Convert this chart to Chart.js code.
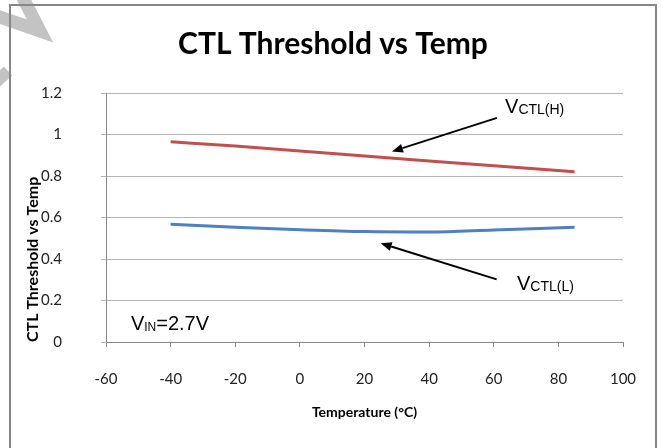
<!DOCTYPE html>
<html lang="en">
  <head>
    <meta charset="UTF-8" />
    <title>CTL Threshold vs Temp</title>
    <style>
      body {
        margin: 0;
        background-color: #ffffff;
      }
      #chartBox {
        width: 663px;
        height: 448px;
      }
    </style>
    <script src="https://cdn.jsdelivr.net/npm/chart.js"></script>
  </head>
  <body>
    <div id="chartBox"><canvas id="thresholdChart" width="663" height="448"></canvas></div>

    <script>
      // temperatures (°C) and the two threshold curves (V)
      const temps = [-40, -20, 0, 20, 40, 60, 85];
      const vctlHigh = [0.965, 0.944, 0.921, 0.896, 0.872, 0.849, 0.821];
      const vctlLow = [0.567, 0.553, 0.541, 0.532, 0.530, 0.540, 0.553];

      // axis ranges
      const xTicks = [-60, -40, -20, 0, 20, 40, 60, 80, 100];
      const yTicks = [0, 0.2, 0.4, 0.6, 0.8, 1, 1.2];

      const labelFont = 'Lato, "Open Sans", sans-serif';
      const noteFont = '"Liberation Sans", Arial, sans-serif';

      function toPoints(xs, ys) {
        return xs.map((x, i) => ({ x: x, y: ys[i] }));
      }

      // text with subscript pieces: [text, size, shift]
      function drawParts(ctx, x, y, parts) {
        ctx.save();
        ctx.fillStyle = '#000';
        ctx.textBaseline = 'alphabetic';
        ctx.textAlign = 'left';
        parts.forEach(p => {
          ctx.font = p[1] + 'px ' + noteFont;
          ctx.fillText(p[0], x, y + p[2]);
          x += ctx.measureText(p[0]).width;
        });
        ctx.restore();
      }

      function drawArrow(ctx, x1, y1, x2, y2) {
        const ang = Math.atan2(y2 - y1, x2 - x1);
        const len = 11, half = 4.5;
        const bx = x2 - len * Math.cos(ang), by = y2 - len * Math.sin(ang);
        ctx.save();
        ctx.strokeStyle = '#000';
        ctx.fillStyle = '#000';
        ctx.lineWidth = 2;
        ctx.beginPath();
        ctx.moveTo(x1, y1);
        ctx.lineTo(bx, by);
        ctx.stroke();
        ctx.beginPath();
        ctx.moveTo(x2, y2);
        ctx.lineTo(bx + half * Math.sin(ang), by - half * Math.cos(ang));
        ctx.lineTo(bx - half * Math.sin(ang), by + half * Math.cos(ang));
        ctx.closePath();
        ctx.fill();
        ctx.restore();
      }

      const notesPlugin = {
        id: 'notes',
        beforeDraw(chart) {
          const ctx = chart.ctx;
          // faint watermark stroke in the corner
          ctx.save();
          ctx.strokeStyle = 'rgba(175,175,175,0.75)';
          ctx.lineWidth = 13;
          ctx.lineJoin = 'miter';
          ctx.beginPath();
          ctx.moveTo(21, -6);
          ctx.lineTo(40, 31);
          ctx.lineTo(-6, 15);
          ctx.stroke();
          ctx.lineWidth = 12;
          ctx.beginPath();
          ctx.moveTo(-6, 84);
          ctx.lineTo(8, 71);
          ctx.stroke();
          ctx.restore();
        },
        afterDatasetsDraw(chart) {
          const ctx = chart.ctx;
          const xs = chart.scales.x, ys = chart.scales.y;
          const px = v => xs.getPixelForValue(v);
          const py = v => ys.getPixelForValue(v);

          drawArrow(ctx, px(61), py(1.08), px(28.5), py(0.918));
          drawArrow(ctx, px(60.9), py(0.302), px(25), py(0.476));

          drawParts(ctx, px(63.5), py(1.106), [['V', 20, 0], ['CTL(H)', 14, 1]]);
          drawParts(ctx, px(67.2), py(0.253), [['V', 20, 0], ['CTL(L)', 14, 1]]);
          drawParts(ctx, px(-52.3), py(0.06), [['V', 20, 0], ['IN', 12, 1], ['=2.7V', 20, 0]]);
        },
        afterDraw(chart) {
          const ctx = chart.ctx;
          ctx.save();
          ctx.strokeStyle = '#878787';
          ctx.lineWidth = 2;
          ctx.strokeRect(10, 5, 646, 460);
          ctx.restore();
        }
      };

      const config = {
        type: 'line',
        data: {
          datasets: [
            {
              label: 'VCTL(H)',
              data: toPoints(temps, vctlHigh),
              borderColor: '#c0504d',
              borderWidth: 3,
              pointRadius: 0,
              tension: 0.4,
              cubicInterpolationMode: 'monotone'
            },
            {
              label: 'VCTL(L)',
              data: toPoints(temps, vctlLow),
              borderColor: '#4f81bd',
              borderWidth: 3,
              pointRadius: 0,
              tension: 0.4,
              cubicInterpolationMode: 'monotone'
            }
          ]
        },
        options: {
          responsive: false,
          animation: false,
          devicePixelRatio: 1,
          layout: { padding: { top: 6, left: 10, right: 7, bottom: 0 } },
          plugins: {
            legend: { display: false },
            tooltip: { enabled: false },
            title: {
              display: true,
              text: 'CTL Threshold vs Temp',
              color: '#000',
              font: { family: labelFont, size: 30, weight: 'bold', lineHeight: 1.2 },
              padding: { top: 20, bottom: 31 }
            }
          },
          scales: {
            x: {
              type: 'linear',
              min: xTicks[0],
              max: xTicks[xTicks.length - 1],
              afterBuildTicks: s => { s.ticks = xTicks.map(v => ({ value: v })); },
              afterFit: s => { s.height = 106; },
              grid: { drawOnChartArea: false, drawTicks: true, tickLength: 5, color: '#878787' },
              border: { color: '#878787', width: 1 },
              ticks: {
                padding: 23,
                color: '#222',
                font: { family: labelFont, size: 15 },
                callback: v => String(v)
              },
              title: {
                display: true,
                text: 'Temperature (°C)',
                color: '#000',
                font: { family: labelFont, size: 14, weight: 'bold', lineHeight: 1.2 },
                padding: { top: 0, bottom: 27 }
              }
            },
            y: {
              min: yTicks[0],
              max: yTicks[yTicks.length - 1],
              afterBuildTicks: s => { s.ticks = yTicks.map(v => ({ value: v })); },
              afterFit: s => { s.width = 96; },
              grid: { color: '#b5b5b5', drawTicks: true, tickLength: 5 },
              border: { color: '#878787', width: 1 },
              ticks: {
                padding: 39,
                color: '#222',
                font: { family: labelFont, size: 15 },
                callback: v => String(+v.toFixed(1))
              },
              title: {
                display: true,
                text: 'CTL Threshold vs Temp',
                align: 'start',
                color: '#000',
                font: { family: labelFont, size: 16, weight: 'bold', lineHeight: 1.2 },
                padding: { top: 13, bottom: 0 }
              }
            },
            // empty right-hand strip so the plot ends where the reference does
            spacer: {
              position: 'right',
              min: 0,
              max: 1,
              afterFit: s => { s.width = 33; },
              grid: { display: false },
              border: { display: false },
              ticks: { display: false }
            }
          }
        },
        plugins: [notesPlugin]
      };

      new Chart(document.getElementById('thresholdChart'), config);
    </script>
  </body>
</html>
